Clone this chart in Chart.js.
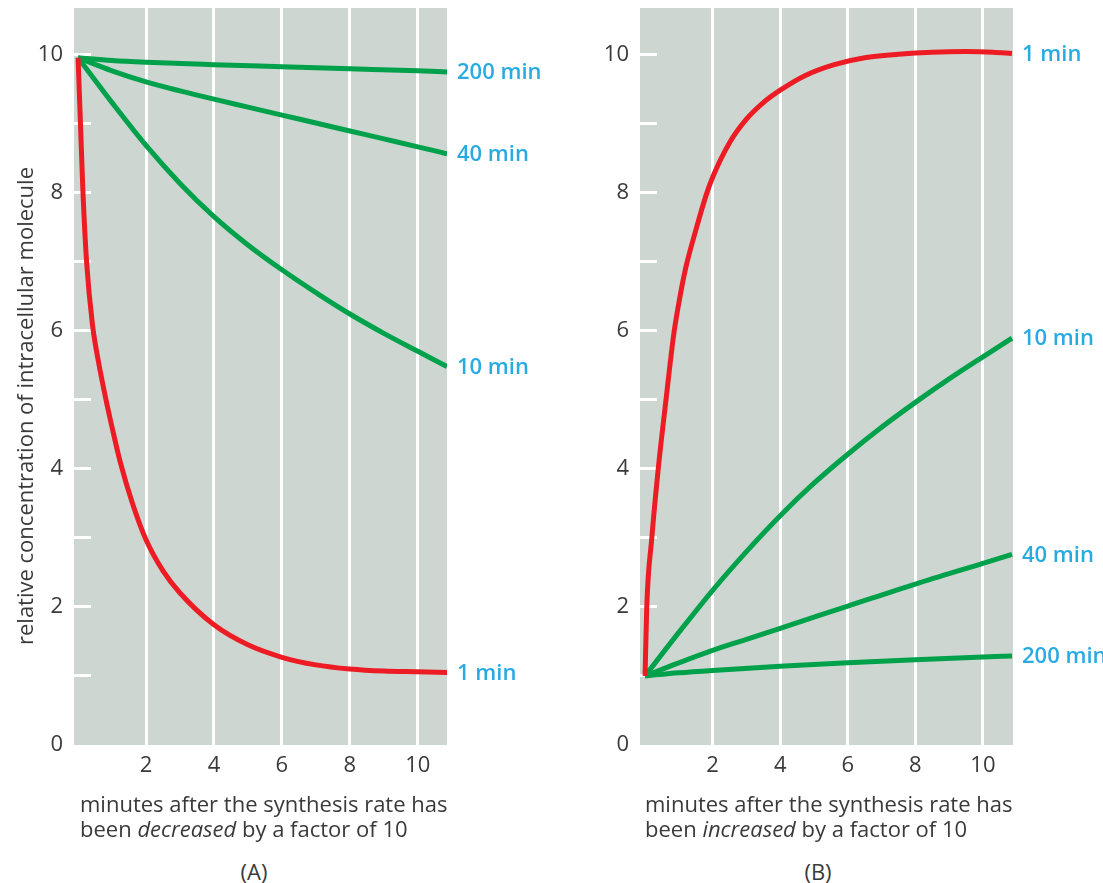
<!DOCTYPE html>
<html>
<head>
<meta charset="utf-8">
<script src="https://cdn.jsdelivr.net/npm/chart.js@4.4.1/dist/chart.umd.min.js"></script>
<style>
  html, body { margin:0; padding:0; background:#fff; width:1103px; height:883px; overflow:hidden;
    font-family:"Open Sans", sans-serif; color:#3a3a3a; }
  canvas { position:absolute; top:0; }
  #cA { left:0; }
  #cB { left:566px; }
  .cap { position:absolute; font-size:22px; line-height:25px; white-space:nowrap; }
  .panel { position:absolute; font-size:22px; line-height:25px; transform:translateX(-50%); }
  .ytitle { position:absolute; left:24px; top:406px; font-size:22px; white-space:nowrap;
    transform:translate(-50%,-50%) rotate(-90deg); }
</style>
</head>
<body>
<canvas id="cA" width="560" height="800"></canvas>
<canvas id="cB" width="537" height="800"></canvas>
<div class="ytitle">relative concentration of intracellular molecule</div>
<div class="cap" style="left:80px; top:791px;">minutes after the synthesis rate has<br>been <i>decreased</i> by a factor of 10</div>
<div class="cap" style="left:645px; top:791px;">minutes after the synthesis rate has<br>been <i>increased</i> by a factor of 10</div>
<div class="panel" style="left:254px; top:859px;">(A)</div>
<div class="panel" style="left:818px; top:859px;">(B)</div>
<script>
// ---- data: [minutes, relative concentration] ----
// (A) synthesis rate decreased by a factor of 10
const decHalf1   = [[0,9.95],[0.07,9.0],[0.14,8.05],[0.25,7.0],[0.42,6.1],[0.6,5.55],[0.8,5.05],[1.0,4.6],[1.25,4.08],[1.6,3.5],[2,2.97],[2.5,2.52],[3,2.2],[4,1.74],[5,1.45],[6,1.27],[7,1.16],[8,1.1],[9,1.07],[10,1.06],[10.86,1.05]];
const decHalf10  = [[0,9.95],[1,9.3],[2,8.68],[3,8.13],[4,7.65],[5,7.24],[6,6.88],[7,6.55],[8,6.24],[9,5.96],[10,5.7],[10.86,5.48]];
const decHalf40  = [[0,9.95],[1,9.76],[2,9.6],[3,9.47],[4,9.35],[5,9.235],[6,9.12],[7,9.005],[8,8.89],[9,8.775],[10,8.66],[10.86,8.56]];
const decHalf200 = [[0,9.95],[1,9.91],[2,9.885],[4,9.85],[6,9.82],[8,9.79],[10,9.76],[10.86,9.745]];
// (B) synthesis rate increased by a factor of 10
const incHalf1   = [[0,1],[0.05,2],[0.2,3],[0.39,4],[0.62,5],[0.85,5.95],[1.0,6.4],[1.2,6.9],[1.5,7.45],[1.8,7.95],[2,8.22],[2.5,8.72],[3,9.06],[3.5,9.3],[4,9.48],[4.73,9.69],[5.6,9.85],[6.5,9.95],[7.5,10.0],[8.5,10.03],[9.5,10.04],[10.3,10.03],[10.86,10.01]];
const incHalf10  = [[0,1],[1,1.63],[2,2.24],[3,2.8],[4,3.32],[5,3.79],[6,4.21],[7,4.6],[8,4.96],[9,5.3],[10,5.62],[10.86,5.89]];
const incHalf40  = [[0,1],[1,1.19],[2,1.37],[3,1.53],[4,1.69],[6,2.01],[8,2.33],[10,2.63],[10.86,2.76]];
const incHalf200 = [[0,1],[1,1.045],[2,1.08],[4,1.14],[6,1.19],[8,1.235],[10,1.275],[10.86,1.29]];
// curve labels (half-lives)
const halfLifeLabels = ['1 min', '10 min', '40 min', '200 min'];
// axis ticks
const xTickStep = 2;
const yTickStep = 1;
const yLabelEvery = 2;

const RED = '#ed1c24', GREEN = '#00a14b', BLUE = '#29abe2', BG = '#cdd6d1', TXT = '#3a3a3a';
const FONT = '"Open Sans", sans-serif';
const FS = 22;

const bgPlugin = {
  id: 'plotBg',
  beforeDraw(chart) {
    const { ctx, chartArea: a } = chart;
    ctx.save();
    ctx.fillStyle = BG;
    ctx.fillRect(a.left, a.top, a.right - a.left, a.bottom - a.top);
    ctx.restore();
  }
};
const endLabelPlugin = {
  id: 'endLabels',
  afterDatasetsDraw(chart) {
    const ctx = chart.ctx;
    ctx.save();
    ctx.fillStyle = BLUE;
    ctx.font = '600 ' + FS + 'px ' + FONT;
    ctx.textBaseline = 'middle';
    ctx.textAlign = 'left';
    chart.data.datasets.forEach((ds, i) => {
      const pts = chart.getDatasetMeta(i).data;
      const last = pts[pts.length - 1];
      ctx.fillText(ds.label, last.x + 10, last.y + 1);
    });
    ctx.restore();
  }
};

const toXY = arr => arr.map(p => ({ x: p[0], y: p[1] }));
function ds(label, arr, color) {
  return { label, data: toXY(arr), borderColor: color, borderWidth: 5, pointRadius: 0,
           fill: false, cubicInterpolationMode: 'monotone', borderCapStyle: 'butt' };
}
function noPad(s) { s.paddingTop = 0; s.paddingBottom = 0; s.paddingLeft = 0; s.paddingRight = 0; }

function makeChart(id, sets, xmin, xmax, rightPad) {
  return new Chart(document.getElementById(id), {
    type: 'line',
    data: { datasets: sets },
    plugins: [bgPlugin, endLabelPlugin],
    options: {
      responsive: false, animation: false, devicePixelRatio: 1,
      layout: { padding: { left: 0, top: 8, right: rightPad, bottom: 15 } },
      plugins: { legend: { display: false }, tooltip: { enabled: false } },
      scales: {
        x: {
          type: 'linear', min: xmin, max: xmax,
          afterFit: s => { s.height = 40; noPad(s); },
          border: { display: false },
          grid: { drawTicks: false, lineWidth: 3,
                  color: c => (c.tick && c.tick.value === 0) ? 'rgba(0,0,0,0)' : '#ffffff' },
          ticks: { stepSize: xTickStep, includeBounds: false, padding: 8, color: TXT,
                   font: { family: FONT, size: FS },
                   callback: v => v === 0 ? '' : v }
        },
        y: {
          type: 'linear', min: 0, max: 10.67,
          afterFit: s => { s.width = 74; noPad(s); },
          border: { display: false },
          grid: { drawOnChartArea: false, drawTicks: true, tickLength: -17, lineWidth: 3,
                  color: c => (c.tick && c.tick.value === 0) ? 'rgba(0,0,0,0)' : '#ffffff' },
          ticks: { stepSize: yTickStep, includeBounds: false, padding: 28, color: TXT,
                   font: { family: FONT, size: FS },
                   callback: v => (v % yLabelEvery === 0) ? v : '' }
        }
      }
    }
  });
}

makeChart('cA', [
  ds(halfLifeLabels[0], decHalf1, RED),
  ds(halfLifeLabels[1], decHalf10, GREEN),
  ds(halfLifeLabels[2], decHalf40, GREEN),
  ds(halfLifeLabels[3], decHalf200, GREEN)
], -0.12, 10.86, 113);

makeChart('cB', [
  ds(halfLifeLabels[0], incHalf1, RED),
  ds(halfLifeLabels[1], incHalf10, GREEN),
  ds(halfLifeLabels[2], incHalf40, GREEN),
  ds(halfLifeLabels[3], incHalf200, GREEN)
], -0.15, 10.89, 90);
</script>
</body>
</html>
